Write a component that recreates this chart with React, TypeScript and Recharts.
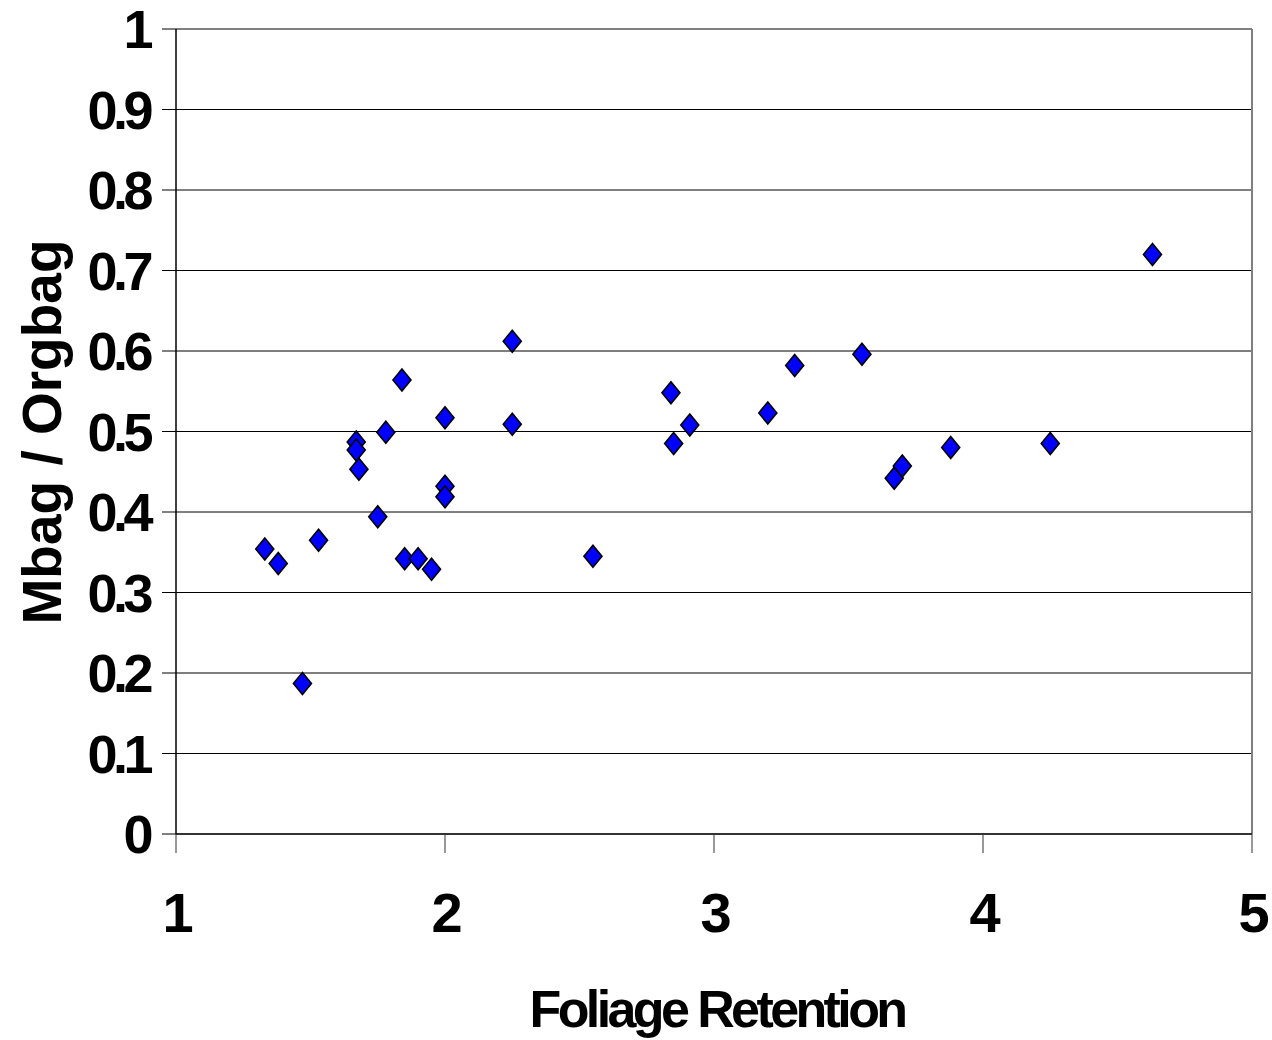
import { ScatterChart, Scatter, XAxis, YAxis, CartesianGrid, ReferenceLine } from 'recharts'

// Foliage retention (x) vs Mbag / Orgbag (y)
const retention = [
  1.33, 1.38, 1.47, 1.53, 1.67, 1.67, 1.68, 1.75, 1.78, 1.84,
  1.85, 1.9, 1.95, 2.0, 2.0, 2.0, 2.25, 2.25, 2.55, 2.84,
  2.85, 2.91, 3.2, 3.3, 3.55, 3.67, 3.7, 3.88, 4.25, 4.63,
]
const ratio = [
  0.354, 0.336, 0.187, 0.365, 0.487, 0.477, 0.453, 0.394, 0.499, 0.564,
  0.342, 0.342, 0.329, 0.517, 0.432, 0.419, 0.612, 0.509, 0.345, 0.548,
  0.485, 0.508, 0.523, 0.582, 0.596, 0.442, 0.457, 0.48, 0.485, 0.72,
]

const xTicks = [1, 2, 3, 4, 5]
const yTicks = [0, 0.1, 0.2, 0.3, 0.4, 0.5, 0.6, 0.7, 0.8, 0.9, 1]

const points = retention.map((x, i) => ({ x, y: ratio[i] }))

const FONT = '"Liberation Sans", Arial, sans-serif'

function Diamond(props: any) {
  const { cx, cy } = props
  if (cx == null || cy == null) return null
  const w = 9
  const h = 11
  return (
    <polygon
      points={`${cx},${cy - h} ${cx + w},${cy} ${cx},${cy + h} ${cx - w},${cy}`}
      fill="#0000ff"
      stroke="#000"
      strokeWidth={1.6}
    />
  )
}

function YTick(props: any) {
  const { x, y, payload } = props
  return (
    <text
      x={x - 11}
      y={y + 19}
      textAnchor="end"
      style={{ fontFamily: FONT, fontWeight: 700, fontSize: 54, letterSpacing: -4.5 }}
      fill="#000"
    >
      {String(payload.value)}
    </text>
  )
}

function XTick(props: any) {
  const { x, y, payload } = props
  return (
    <text
      x={x + 2}
      y={y + 77}
      textAnchor="middle"
      style={{ fontFamily: FONT, fontWeight: 700, fontSize: 56 }}
      fill="#000"
    >
      {String(payload.value)}
    </text>
  )
}

export default function App() {
  return (
    <div style={{ position: 'absolute', left: 0, top: 0, width: 1272, height: 1040, background: '#fff' }}>
      <ScatterChart
        width={1272}
        height={1040}
        margin={{ top: 29, right: 20, left: 0, bottom: 0 }}
      >
        <CartesianGrid horizontal vertical={false} stroke="#000" strokeWidth={1} />
        <XAxis
          type="number"
          dataKey="x"
          domain={[1, 5]}
          ticks={xTicks}
          height={206}
          tickSize={19}
          tickMargin={2}
          tick={<XTick />}
          axisLine={{ stroke: '#333', strokeWidth: 2 }}
          tickLine={{ stroke: '#333', strokeWidth: 1 }}
          interval={0}
        />
        <YAxis
          type="number"
          dataKey="y"
          domain={[0, 1]}
          ticks={yTicks}
          width={176}
          tickSize={14}
          tickMargin={2}
          tick={<YTick />}
          axisLine={{ stroke: '#000', strokeWidth: 1.5 }}
          tickLine={{ stroke: '#000', strokeWidth: 1 }}
          interval={0}
        />
        <ReferenceLine y={1} stroke="#808080" strokeWidth={2} />
        <ReferenceLine x={5} stroke="#808080" strokeWidth={2} />
        <Scatter data={points} shape={<Diamond />} isAnimationActive={false} />
      </ScatterChart>
      <svg
        width={1272}
        height={1040}
        style={{ position: 'absolute', left: 0, top: 0, pointerEvents: 'none' }}
      >
        <text
          x={717}
          y={1027}
          textAnchor="middle"
          style={{ fontFamily: FONT, fontWeight: 700, fontSize: 52, letterSpacing: -3.6 }}
          fill="#000"
        >
          Foliage Retention
        </text>
        <text
          x={61}
          y={432}
          textAnchor="middle"
          transform="rotate(-90 61 432)"
          style={{ fontFamily: FONT, fontWeight: 700, fontSize: 55 }}
          fill="#000"
        >
          Mbag / Orgbag
        </text>
      </svg>
    </div>
  )
}
